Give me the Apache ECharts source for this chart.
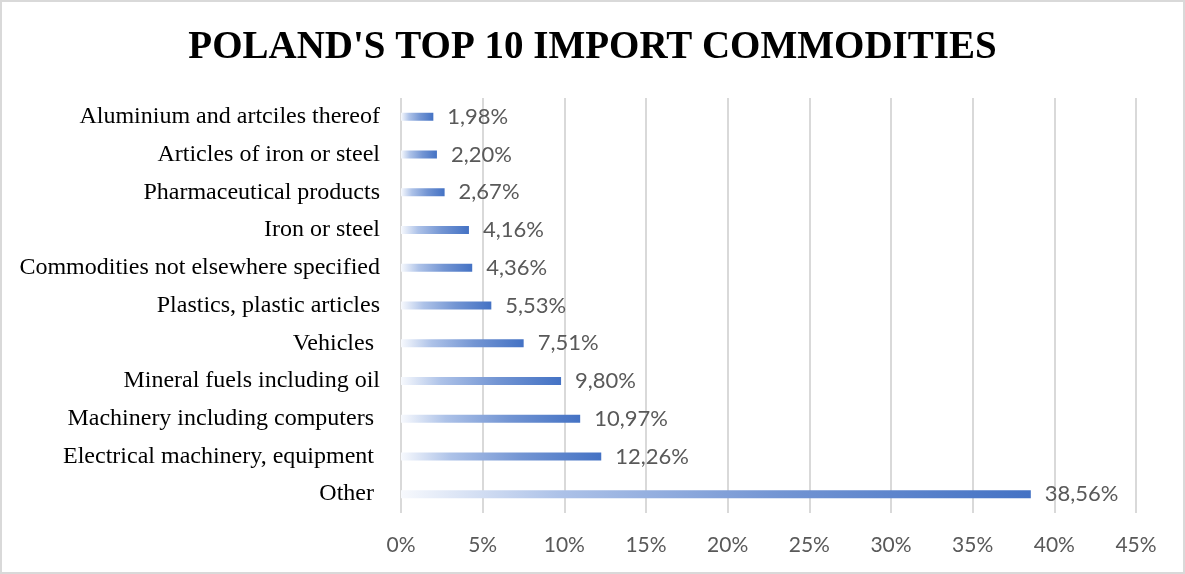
<!DOCTYPE html>
<html>
<head>
<meta charset="utf-8">
<script src="https://cdn.jsdelivr.net/npm/echarts@6/dist/echarts.min.js"></script>
<style>
  html, body { margin: 0; padding: 0; background: #fff; }
  #frame { width: 1185px; height: 574px; box-sizing: border-box; border: 2px solid #d9d9d9; position: relative; }
  #chart { position: absolute; left: -2px; top: -2px; width: 1185px; height: 574px; }
</style>
</head>
<body>
<div id="frame"><div id="chart"></div></div>
<script>
// Commodities, listed top to bottom
const categories = [
  'Aluminium and artciles thereof',
  'Articles of iron or steel',
  'Pharmaceutical products',
  'Iron or steel',
  'Commodities not elsewhere specified',
  'Plastics, plastic articles',
  'Vehicles ',
  'Mineral fuels including oil',
  'Machinery including computers ',
  'Electrical machinery, equipment ',
  'Other '
];
// Share of total imports, percent
const shares = [1.98, 2.20, 2.67, 4.16, 4.36, 5.53, 7.51, 9.80, 10.97, 12.26, 38.56];
// Axis ticks, percent
const tickValues = [0, 5, 10, 15, 20, 25, 30, 35, 40, 45];

const chart = echarts.init(document.getElementById('chart'), null, { renderer: 'canvas' });

const barFill = new echarts.graphic.LinearGradient(0, 0, 1, 0, [
  { offset: 0, color: '#f7f9fd' },
  { offset: 0.25, color: '#adc2e8' },
  { offset: 0.6, color: '#7395d3' },
  { offset: 1, color: '#4472C4' }
]);

chart.setOption({
  animation: false,
  title: {
    text: "POLAND'S TOP 10 IMPORT COMMODITIES",
    left: 'center',
    top: 23,
    textStyle: {
      fontFamily: '"Liberation Serif", "DejaVu Serif", serif',
      fontWeight: 'bold',
      fontSize: 39,
      color: '#000'
    }
  },
  grid: { left: 401, right: 49, top: 98, bottom: 61, containLabel: false },
  xAxis: {
    type: 'value',
    min: tickValues[0],
    max: tickValues[tickValues.length - 1],
    interval: 5,
    axisLine: { show: false },
    axisTick: { show: false },
    splitLine: { show: true, lineStyle: { color: '#d9d9d9', width: 2 } },
    axisLabel: {
      margin: 22,
      color: '#595959',
      fontFamily: 'Lato, "Open Sans", sans-serif',
      fontSize: 21,
      formatter: v => v + '%'
    }
  },
  yAxis: {
    type: 'category',
    inverse: true,
    data: categories,
    axisLine: { show: false },
    axisTick: { show: false },
    axisLabel: {
      margin: 21,
      color: '#000',
      fontFamily: '"Liberation Serif", "DejaVu Serif", serif',
      fontSize: 24
    }
  },
  series: [{
    type: 'bar',
    data: shares,
    barWidth: 8,
    itemStyle: { color: barFill },
    label: {
      show: true,
      position: 'right',
      distance: 14,
      color: '#595959',
      fontFamily: 'Lato, "Open Sans", sans-serif',
      fontSize: 22,
      formatter: p => p.value.toFixed(2).replace('.', ',') + '%'
    }
  }]
});
</script>
</body>
</html>
